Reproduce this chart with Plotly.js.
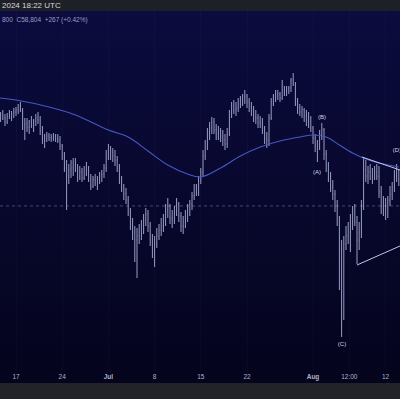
<!DOCTYPE html>
<html><head><meta charset="utf-8">
<script src="https://cdn.plot.ly/plotly-3.0.1.min.js"></script>
<style>
html,body{margin:0;padding:0;width:400px;height:399px;overflow:hidden;
background:linear-gradient(to bottom,#1e2027 0px,#1e2027 11px,#0b0b3e 11px,#04041d 383px,#212329 383px,#212329 399px);}
#chart{width:400px;height:399px;}
</style></head>
<body><div id="chart"></div>
<script>
// 8-hour bars starting 2024-06-14 16:00 UTC
const barStart = '2024-06-14T16:00:00Z';
const openP = [65400,65625,65400,65100,65550,65700,65475,65850,66000,66300,
66000,64800,64950,64725,65100,64875,65175,65400,65250,64425,
63750,63900,64050,63900,63975,64050,63825,63750,63300,62550,
61650,61050,61500,61650,61950,61500,61050,61350,60900,61500,
61350,60750,60300,60750,60525,60825,61050,61200,61650,62700,
63000,62850,62550,62250,61650,60750,60150,59700,59250,58350,
57450,56850,56250,56550,56850,57300,57750,58200,57300,56250,
55500,55950,56550,57000,57300,57600,58500,58800,57900,57750,
58350,58950,58050,57300,57600,58200,58500,58950,59550,60000,
59850,60750,61350,62550,63300,64200,64650,65100,64500,64200,
64350,64050,63750,63450,64200,65550,66300,66000,66150,66450,
66750,66900,67050,66600,66300,66000,65550,65400,65100,64950,
64500,63900,63750,65400,66600,66900,67050,67200,66900,67500,
67350,67500,67650,68250,67950,66600,66150,65850,66000,65550,
65250,65400,64650,63900,63300,63150,64200,64500,62700,61800,
61050,60300,59700,58800,57600,54000,55500,55950,56550,57000,
57600,58200,57600,56250,56850,58800,61500,61050,61350,61050,
61200,61350,61050,59850,58800,58500,58350,59250,59700,60150,
61050,60900];
const highP = [65850,66000,65700,65775,66000,65925,66150,66225,66450,66600,
66150,65400,65400,65250,65550,65325,65700,65850,65550,64800,
64200,64350,64275,64200,64275,64200,64200,64050,63450,62850,
62250,61950,62250,62400,62400,61950,61800,61650,61800,62100,
61800,61200,61050,61200,61050,61350,61500,61950,63000,63450,
63300,63150,63000,62550,61950,61050,60450,60150,59550,58650,
57900,57300,57150,57450,57750,58200,58650,58500,57600,56700,
56550,57150,57450,57900,58200,58950,59400,58950,58500,58800,
59400,59100,58350,58050,58500,58950,59250,59850,60450,60450,
61050,61650,63000,63750,64650,65100,65475,65400,64950,64800,
64650,64500,64200,64650,66000,66600,66750,66600,66900,67050,
67200,67500,67200,66900,66600,66300,66000,65700,65550,65400,
64800,64350,65700,66900,67200,67500,67500,67350,68250,67800,
67800,67800,68400,68775,68100,66900,66450,66300,66150,66000,
65850,65550,64800,64200,63750,64500,65025,64650,63000,62100,
61350,60750,60000,59250,58050,56250,56550,57300,57600,58200,
58800,58950,58050,57600,59250,62475,62250,61800,61950,61650,
61800,61950,61800,60300,59550,59400,59550,60300,60600,61500,
61950,61500];
const lowP = [65100,65250,64800,64950,65325,65175,65400,65550,65700,65850,
64500,63750,64350,64200,64650,64350,64800,64950,64125,63450,
63150,63600,63675,63600,63675,63600,63525,63000,62250,61350,
58500,60450,60900,61050,61350,60600,60750,60600,60750,61050,
60600,60000,60150,60300,60000,60450,60600,60900,61350,62250,
62250,62100,61800,61350,60450,59850,59250,58950,58050,57000,
56250,54600,53400,55950,56250,56700,57300,56850,55800,54900,
54225,55650,56250,56550,56850,57300,57900,57450,57150,57450,
58050,57600,56850,56700,57150,57600,58050,58500,59250,59550,
59550,60450,61050,62250,63000,63750,64200,64200,63750,63750,
63600,63300,63000,63150,64050,65400,65700,65550,65850,66150,
66300,66450,66150,65850,65550,65100,64950,64650,64650,64200,
63450,63150,63300,65250,66300,66600,66750,66600,66750,67050,
67050,67200,67350,67800,66300,65700,65550,65400,65100,64800,
64650,64350,63450,62850,62100,63000,63750,62250,61350,60600,
59850,59250,58350,57300,52500,48975,50250,55500,55950,55350,
57000,57300,54450,55500,56400,58500,60600,60450,60750,60450,
60750,60750,59400,58200,58050,57750,57900,58800,59250,59850,
60600,60300];
const closeP = [65625,65400,65100,65550,65700,65475,65850,66000,66300,66000,
64800,64950,64725,65100,64875,65175,65400,65250,64425,63750,
63900,64050,63900,63975,64050,63825,63750,63300,62550,61650,
61050,61500,61650,61950,61500,61050,61350,60900,61500,61350,
60750,60300,60750,60525,60825,61050,61200,61650,62700,63000,
62850,62550,62250,61650,60750,60150,59700,59250,58350,57450,
56850,56250,56550,56850,57300,57750,58200,57300,56250,55500,
55950,56550,57000,57300,57600,58500,58800,57900,57750,58350,
58950,58050,57300,57600,58200,58500,58950,59550,60000,59850,
60750,61350,62550,63300,64200,64650,65100,64500,64200,64350,
64050,63750,63450,64200,65550,66300,66000,66150,66450,66750,
66900,67050,66600,66300,66000,65550,65400,65100,64950,64500,
63900,63750,65400,66600,66900,67050,67200,66900,67500,67350,
67500,67650,68250,67950,66600,66150,65850,66000,65550,65250,
65400,64650,63900,63300,63150,64200,64500,62700,61800,61050,
60300,59700,58800,57600,54000,55500,55950,56550,57000,57600,
58200,57600,56250,56850,58800,61500,61050,61350,61050,61200,
61350,61050,59850,58800,58500,58350,59250,59700,60150,61050,
60900,60750];

const maDates = ['2024-06-14 12:00','2024-06-17','2024-06-22','2024-06-26','2024-07-01','2024-07-04','2024-07-07','2024-07-10','2024-07-13','2024-07-15','2024-07-18','2024-07-21','2024-07-24','2024-07-27','2024-07-30','2024-08-01','2024-08-03','2024-08-05','2024-08-07','2024-08-09','2024-08-11','2024-08-14'];
const maValues = [66900,66750,66225,65625,64500,63975,62925,61875,61200,60975,61650,62550,63225,63675,63975,64125,63975,63375,62775,62325,62025,61725];

const triUpperDates = ['2024-08-08 10:00','2024-08-14 04:22'];
const triUpperValues = [62475,61500];
const triLowerDates = ['2024-08-07 16:00','2024-08-14 04:22'];
const triLowerValues = [54375,55800];

const waveLabels = ['(A)','(B)','(C)','(D)'];
const waveDates = ['2024-08-01 14:30','2024-08-02 08:40','2024-08-05 09:20','2024-08-13 17:30'];
const wavePrices = [61350,65475,48450,63000];

const lastPrice = 58804;
const tickDates = ['2024-06-17','2024-06-24','2024-07-01','2024-07-08','2024-07-15','2024-07-22','2024-08-01','2024-08-06 12:00','2024-08-12'];
const tickLabels = ['17','24','Jul','8','15','22','Aug','12:00','12'];
const monthTicks = ['Jul','Aug'];

const t0 = Date.parse(barStart);
const barDates = openP.map((_, i) => new Date(t0 + i * 8 * 3600 * 1000).toISOString());

const FONT = 'Liberation Sans, Arial, sans-serif';
const barColor = '#9a9dc4';

const traces = [
  {type:'scatter', mode:'lines', x:maDates, y:maValues, line:{color:'#4657c2', width:1.1, shape:'spline'}, hoverinfo:'skip'},
  {type:'ohlc', x:barDates, open:openP, high:highP, low:lowP, close:closeP,
   increasing:{line:{color:barColor, width:1}}, decreasing:{line:{color:barColor, width:1}},
   tickwidth:0.15, hoverinfo:'skip'},
  {type:'scatter', mode:'lines', x:triUpperDates, y:triUpperValues, line:{color:'#c3c5ea', width:1}, hoverinfo:'skip'},
  {type:'scatter', mode:'lines', x:triLowerDates, y:triLowerValues, line:{color:'#c3c5ea', width:1}, hoverinfo:'skip'},
  {type:'scatter', mode:'text', x:waveDates, y:wavePrices, text:waveLabels, cliponaxis:true,
   textfont:{family:FONT, size:6, color:'#d2d3e8'}, hoverinfo:'skip'}
];

const layout = {
  width:400, height:399,
  margin:{l:0, r:0, t:11, b:28},
  paper_bgcolor:'rgba(0,0,0,0)', plot_bgcolor:'rgba(0,0,0,0)',
  showlegend:false,
  xaxis:{type:'date', range:['2024-06-14 13:49','2024-08-14 04:22'],
    rangeslider:{visible:false}, showgrid:true, gridcolor:'rgba(255,255,255,0.025)',
    zeroline:false, showline:false, ticks:'',
    tickvals:tickDates,
    ticktext:tickLabels.map(t => monthTicks.includes(t) ? '<b>'+t+'</b>' : t),
    tickfont:{family:FONT, size:6.5, color:'#b0b2c6'}, fixedrange:true},
  yaxis:{range:[46425,73425], visible:false, showgrid:false, zeroline:false, fixedrange:true},
  shapes:[
    {type:'line', xref:'paper', x0:0, x1:1, yref:'y', y0:lastPrice, y1:lastPrice,
     line:{color:'rgba(150,152,180,0.45)', width:1, dash:'dot'}, layer:'below'}
  ],
  annotations:[
    {xref:'paper', yref:'paper', x:0, y:1, yshift:5.5, xanchor:'left', yanchor:'middle',
     text:'2024 18:22 UTC', showarrow:false, font:{family:FONT, size:8, color:'#d6d7de'}},
    {xref:'paper', yref:'paper', x:0, y:1, yshift:-9, xanchor:'left', yanchor:'middle',
     text:'800  C58,804  +267 (+0.42%)', showarrow:false, font:{family:FONT, size:6.5, color:'#9c9ec0'}}
  ]
};

Plotly.newPlot('chart', traces, layout, {displayModeBar:false, staticPlot:true});
</script>
</body></html>
